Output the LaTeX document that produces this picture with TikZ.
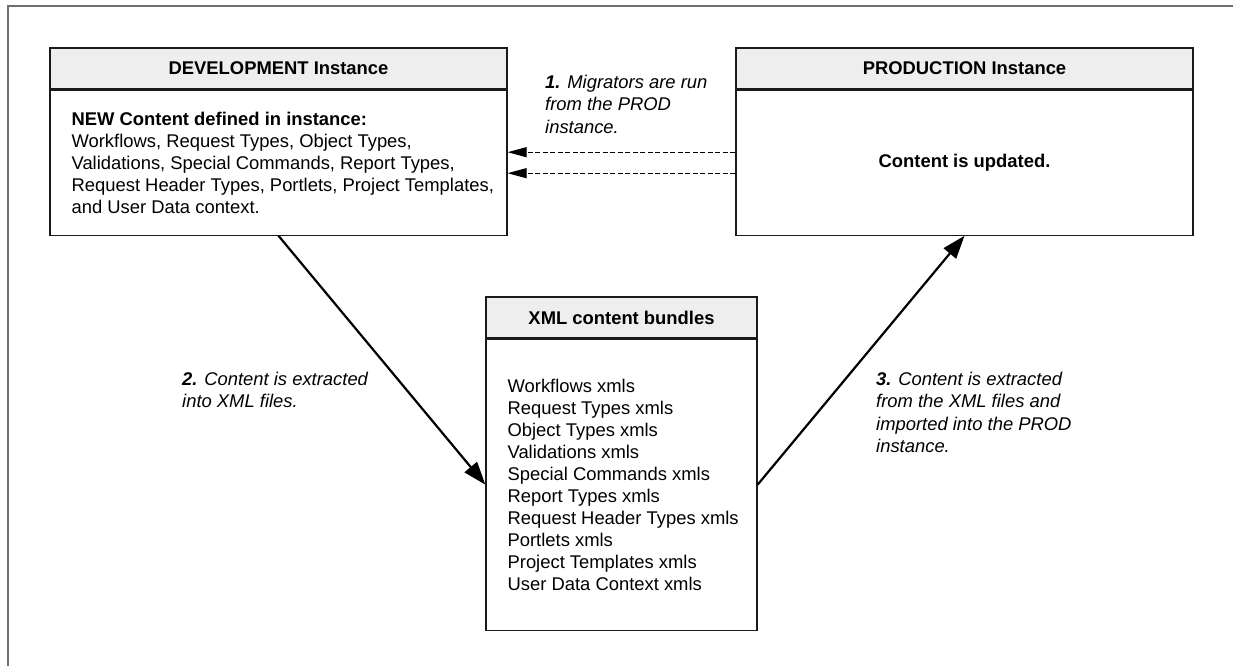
\documentclass[tikz,border=0pt]{standalone}
\usepackage{fontspec}
\setmainfont{Liberation Sans}
\usepackage{tikz}
\usetikzlibrary{arrows.meta,positioning}
\definecolor{ink}{HTML}{1A1A1A}
\definecolor{headgray}{HTML}{EEEEEE}
\definecolor{framegray}{HTML}{6E6E6E}
\tikzset{
  headbox/.style={draw=ink,fill=headgray,line width=1.2pt,minimum height=41pt,
                  inner sep=0pt,font=\fontsize{18.4}{22}\selectfont\bfseries},
  bodybox/.style={draw=ink,fill=white,line width=1.2pt,align=center,
                  inner sep=0pt,font=\fontsize{18.4}{22}\selectfont},
  listtext/.style={align=left,inner sep=0pt,anchor=west,
                   font=\fontsize{18.4}{22}\selectfont},
  stepnote/.style={align=left,inner sep=0pt,anchor=north west,
                   font=\fontsize{18.4}{22.5}\selectfont\itshape},
  flowarr/.style={-{Triangle[length=23pt,width=16pt]},line width=2.2pt,
                  draw=black},
  migarr/.style={-{Triangle[length=19pt,width=10pt]},line width=1.2pt,
                 draw=black,dash pattern=on 5pt off 2.5pt}
}
\begin{document}
\begin{tikzpicture}[x=1pt,y=-1pt]
  \path[use as bounding box] (0,0) rectangle (1233,666);
  % page frame, only top and left edge show
  \draw[framegray,line width=1.5pt] (8,666) -- (8,6) -- (1233,6);

  \node[headbox,minimum width=457pt] (devhead) at (278.5,68.5)
    {DEVELOPMENT Instance};
  \node[bodybox,minimum width=457pt,minimum height=145pt,
        below=0pt of devhead] (devbody) {};
  \node[listtext,right=22pt of devbody.west] (devlist)
    {\textbf{NEW Content defined in instance:}\\
     Workflows, Request Types, Object Types,\\
     Validations, Special Commands, Report Types,\\
     Request Header Types, Portlets, Project Templates,\\
     and User Data context.};

  \node[headbox,minimum width=457pt] (prodhead) at (964.5,68.5)
    {PRODUCTION Instance};
  \node[bodybox,minimum width=457pt,minimum height=145pt,
        below=0pt of prodhead] (prodbody)
    {\textbf{Content is updated.}};

  \node[headbox,minimum width=271pt] (xmlhead) at (621.5,317.5)
    {XML content bundles};
  \node[bodybox,minimum width=271pt,minimum height=291pt,
        below=0pt of xmlhead] (xmlbody) {};
  \node[listtext,right=22pt of xmlbody.west] (xmllist)
    {Workflows xmls\\
     Request Types xmls\\
     Object Types xmls\\
     Validations xmls\\
     Special Commands xmls\\
     Report Types xmls\\
     Request Header Types xmls\\
     Portlets xmls\\
     Project Templates xmls\\
     User Data Context xmls};

  \draw[migarr] ([yshift=10.5pt]prodbody.west) -- ([yshift=10.5pt]devbody.east);
  \draw[migarr] ([yshift=-10.5pt]prodbody.west) -- ([yshift=-10.5pt]devbody.east);
  \draw[flowarr] (devbody.south) -- (xmlbody.west);
  \draw[flowarr] (xmlbody.east) -- (prodbody.south);

  \node[stepnote] (mignote) at (545,74.5)
    {\textbf{1.} Migrators are run\\from the PROD\\instance.};
  \node[stepnote] (extnote) at (182,371.5)
    {\textbf{2.} Content is extracted\\into XML files.};
  \node[stepnote] (impnote) at (876,371.5)
    {\textbf{3.} Content is extracted\\from the XML files and\\imported into the PROD\\instance.};
\end{tikzpicture}
\end{document}
